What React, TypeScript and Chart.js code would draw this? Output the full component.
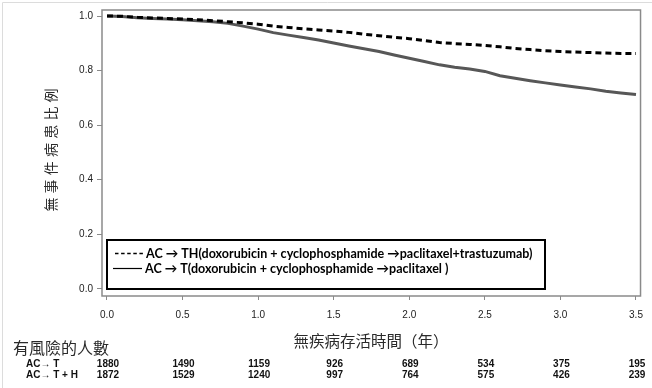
import React, { useEffect, useRef } from "react";
import { Chart, registerables } from "chart.js";

Chart.register(...registerables);

// ---- data ----
const TIME = [
  0, 0.1, 0.2, 0.3, 0.4, 0.5, 0.6, 0.7, 0.8, 0.9, 1.0, 1.1, 1.2, 1.3, 1.4, 1.5, 1.6, 1.7,
  1.8, 1.9, 2.0, 2.1, 2.2, 2.3, 2.4, 2.5, 2.6, 2.7, 2.8, 2.9, 3.0, 3.1, 3.2, 3.3, 3.4, 3.5,
];
const AC_TH = [
  1.0, 0.999, 0.995, 0.993, 0.991, 0.989, 0.986, 0.983, 0.979, 0.975, 0.970, 0.963, 0.958,
  0.953, 0.949, 0.945, 0.940, 0.933, 0.928, 0.922, 0.917, 0.910, 0.903, 0.899, 0.896, 0.892,
  0.887, 0.881, 0.877, 0.873, 0.870, 0.868, 0.866, 0.864, 0.863, 0.863,
];
const AC_T = [
  1.0, 0.998, 0.994, 0.991, 0.989, 0.986, 0.983, 0.979, 0.973, 0.963, 0.952, 0.939, 0.930,
  0.921, 0.912, 0.901, 0.890, 0.880, 0.870, 0.857, 0.845, 0.833, 0.821, 0.812, 0.806, 0.797,
  0.781, 0.772, 0.763, 0.755, 0.747, 0.740, 0.733, 0.724, 0.718, 0.712,
];
const X_TICKS = [0, 0.5, 1.0, 1.5, 2.0, 2.5, 3.0, 3.5];
const Y_TICKS = [0, 0.2, 0.4, 0.6, 0.8, 1.0];
const RISK_LABELS = ["AC→ T", "AC→ T + H"];
const RISK_AC_T = [1880, 1490, 1159, 926, 689, 534, 375, 195];
const RISK_AC_TH = [1872, 1529, 1240, 997, 764, 575, 426, 239];
const LEGEND_TH = "AC → TH(doxorubicin + cyclophosphamide →paclitaxel+trastuzumab)";
const LEGEND_T = "AC → T(doxorubicin + cyclophosphamide →paclitaxel )";
const Y_TITLE = "無事件病患比例";
const X_TITLE = "無疾病存活時間（年）";
const RISK_TITLE = "有風險的人數";

const CJK = '"Noto Sans CJK TC", "Noto Sans CJK SC", sans-serif';
const SANS = '"Liberation Sans", Arial, sans-serif';

const decor = {
  id: "decor",
  afterDatasetsDraw(chart: any) {
    const { ctx, chartArea } = chart;
    const { left, top, right, bottom } = chartArea;
    ctx.save();
    // plot frame
    ctx.strokeStyle = "#8a8a8a";
    ctx.lineWidth = 1.5;
    ctx.strokeRect(left, top, right - left, bottom - top);

    // legend box
    const bx = 107, by = 240, bw = 438, bh = 49;
    ctx.fillStyle = "#ffffff";
    ctx.fillRect(bx, by, bw, bh);
    ctx.strokeStyle = "#000";
    ctx.lineWidth = 2;
    ctx.strokeRect(bx, by, bw, bh);

    ctx.font = 'bold 100px Lato, "Open Sans", sans-serif';
    const w = ctx.measureText(LEGEND_TH).width;
    const fs = (100 * 387) / w;
    ctx.font = `bold ${fs}px Lato, "Open Sans", sans-serif`;
    ctx.fillStyle = "#000";
    ctx.textAlign = "left";
    ctx.textBaseline = "middle";
    // dashed sample
    ctx.beginPath();
    ctx.setLineDash([3.5, 2.6]);
    ctx.lineWidth = 1.5;
    ctx.moveTo(115, 253.5);
    ctx.lineTo(145, 253.5);
    ctx.stroke();
    ctx.setLineDash([]);
    ctx.fillText(LEGEND_TH, 146, 253.5);
    // solid sample
    ctx.beginPath();
    ctx.lineWidth = 1.2;
    ctx.moveTo(113, 268.5);
    ctx.lineTo(142, 268.5);
    ctx.stroke();
    ctx.fillText(LEGEND_T, 145, 268.5);
    ctx.restore();
  },
  afterDraw(chart: any) {
    const { ctx } = chart;
    const xs = chart.scales.x;
    ctx.save();
    // faint outer border (top / left)
    ctx.strokeStyle = "#dcdcdc";
    ctx.lineWidth = 1;
    ctx.beginPath();
    ctx.moveTo(2.5, 388);
    ctx.lineTo(2.5, 2.5);
    ctx.lineTo(652, 2.5);
    ctx.stroke();

    // y title
    ctx.fillStyle = "#2a2a2a";
    ctx.font = `14px ${CJK}`;
    ctx.textAlign = "center";
    ctx.textBaseline = "middle";
    ctx.translate(51, 150);
    ctx.rotate(-Math.PI / 2);
    const step = 18.2;
    const n = Y_TITLE.length;
    for (let i = 0; i < n; i++) {
      ctx.fillText(Y_TITLE[i], -((n - 1) / 2) * step + i * step, 0);
    }
    ctx.setTransform(1, 0, 0, 1, 0, 0);

    // x title
    ctx.font = `15.5px ${CJK}`;
    ctx.textAlign = "center";
    ctx.fillText(X_TITLE, 371, 341.5);

    // number at risk
    ctx.textAlign = "left";
    ctx.font = `16px ${CJK}`;
    ctx.fillText(RISK_TITLE, 13, 348);

    ctx.fillStyle = "#111";
    ctx.font = `bold 10px ${SANS}`;
    ctx.fillText(RISK_LABELS[0], 26, 364.5);
    ctx.fillText(RISK_LABELS[1], 26, 375);
    ctx.textAlign = "center";
    X_TICKS.forEach((t, i) => {
      const px = xs.getPixelForValue(t);
      ctx.fillText(String(RISK_AC_T[i]), px + 1, 364.5);
      ctx.fillText(String(RISK_AC_TH[i]), px + 1, 375);
    });
    ctx.restore();
  },
};

export default function App() {
  const ref = useRef<HTMLCanvasElement | null>(null);
  useEffect(() => {
    document.body.style.margin = "0";
    const canvas = ref.current;
    if (!canvas) return;
    const chart = new Chart(canvas, {
      type: "line",
      data: {
        datasets: [
          {
            label: LEGEND_TH,
            data: TIME.map((t, i) => ({ x: t, y: AC_TH[i] })),
            borderColor: "#000",
            borderWidth: 3,
            borderDash: [6, 4],
            pointRadius: 0,
            fill: false,
          },
          {
            label: LEGEND_T,
            data: TIME.map((t, i) => ({ x: t, y: AC_T[i] })),
            borderColor: "#575757",
            borderWidth: 3,
            pointRadius: 0,
            fill: false,
          },
        ],
      },
      options: {
        responsive: false,
        animation: false,
        devicePixelRatio: 1,
        layout: { padding: { left: 0, right: 7, top: 10, bottom: 0 } },
        plugins: { legend: { display: false }, tooltip: { enabled: false } },
        scales: {
          x: {
            type: "linear",
            min: -0.033,
            max: 3.53,
            afterBuildTicks: (s: any) => {
              s.ticks = X_TICKS.map((v) => ({ value: v }));
            },
            afterFit: (s: any) => {
              s.height = 92;
            },
            border: { display: false },
            grid: { drawOnChartArea: false, drawTicks: true, tickLength: 4, color: "#8a8a8a", lineWidth: 1 },
            ticks: {
              padding: 9,
              color: "#222",
              font: { family: SANS, size: 10 },
              maxRotation: 0,
              callback: (v: any) => Number(v).toFixed(1),
            },
          },
          y: {
            type: "linear",
            min: -0.026,
            max: 1.022,
            afterBuildTicks: (s: any) => {
              s.ticks = Y_TICKS.map((v) => ({ value: v }));
            },
            afterFit: (s: any) => {
              s.width = 102;
            },
            border: { display: false },
            grid: { drawOnChartArea: false, drawTicks: true, tickLength: 5, color: "#8a8a8a", lineWidth: 1 },
            ticks: {
              padding: 4,
              color: "#222",
              font: { family: SANS, size: 10 },
              callback: (v: any) => Number(v).toFixed(1),
            },
          },
        },
      },
      plugins: [decor],
    });
    return () => chart.destroy();
  }, []);
  return (
    <div style={{ width: 652, height: 388, position: "relative", background: "#fff" }}>
      <canvas ref={ref} width={652} height={388} style={{ display: "block" }} />
    </div>
  );
}
